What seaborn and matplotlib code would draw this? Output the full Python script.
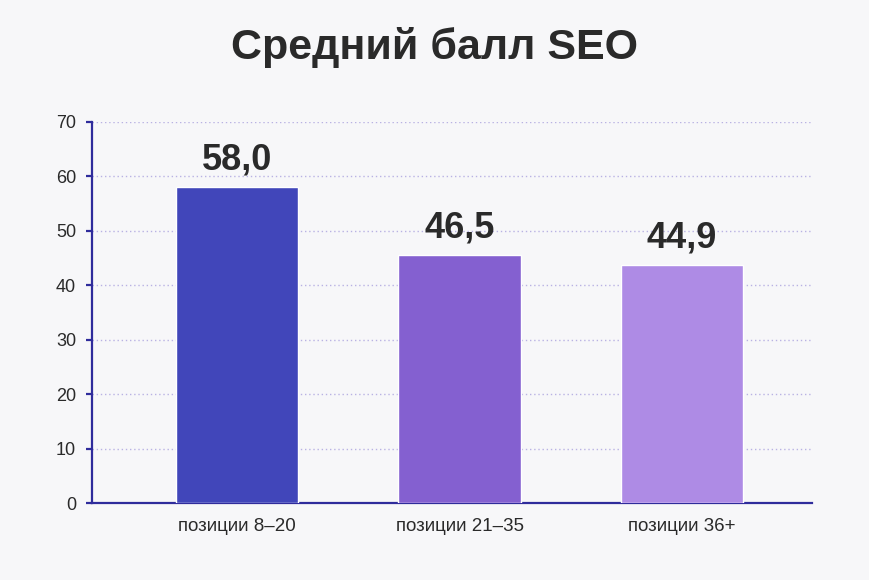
import matplotlib
matplotlib.use("Agg")
import matplotlib.pyplot as plt
import seaborn as sns
import pandas as pd

categories = ["позиции 8–20", "позиции 21–35", "позиции 36+"]
values = [58.0, 45.6, 43.7]
value_labels = ["58,0", "46,5", "44,9"]
colors = ["#4146ba", "#8460d0", "#ae8be5"]
yticks = [0, 10, 20, 30, 40, 50, 60, 70]

sns.set_theme(style="white")
plt.rcParams["font.family"] = ["Liberation Sans", "DejaVu Sans"]

bg = "#f7f7f9"
axis_col = "#2f2c9c"
text_col = "#2a2a2a"

fig = plt.figure(figsize=(8.7, 5.8), dpi=100, facecolor=bg)
ax = fig.add_axes([92/870, 77/580, 720/870, 381/580])
ax.set_facecolor(bg)

df = pd.DataFrame({"cat": categories, "val": values})
sns.barplot(data=df, x="cat", y="val", hue="cat", palette=colors, legend=False,
            width=0.55, ax=ax, saturation=1, zorder=3)

ax.set_ylim(0, 70)
ax.set_xlim(-0.652, 2.584)
ax.set_yticks(yticks)
ax.set_yticklabels([str(t) for t in yticks], fontsize=13, color=text_col)
ax.set_xticks(range(len(categories)))
ax.set_xticklabels(categories, fontsize=13.5, color=text_col)
ax.set_xlabel("")
ax.set_ylabel("")

for t in yticks[1:]:
    ax.axhline(t, color="#b9b2e3", linestyle=(0, (1, 2)), linewidth=1.0, zorder=1)

for s in ["top", "right"]:
    ax.spines[s].set_visible(False)
for s in ["left", "bottom"]:
    ax.spines[s].set_color(axis_col)
    ax.spines[s].set_linewidth(1.6)
ax.tick_params(axis="y", length=4.5, width=1.6, color=axis_col, pad=7, left=True)
ax.tick_params(axis="x", length=0, pad=11)

for i, (v, lab) in enumerate(zip(values, value_labels)):
    ax.annotate(lab, (i, v), xytext=(0, 7), textcoords="offset points",
                ha="center", va="bottom", fontsize=26, fontweight="bold",
                color=text_col)

fig.text(0.5, 1 - 47/580, "Средний балл SEO", ha="center", va="center",
         fontsize=31, fontweight="bold", color=text_col)

fig.savefig("out.png", dpi=100, facecolor=bg)
